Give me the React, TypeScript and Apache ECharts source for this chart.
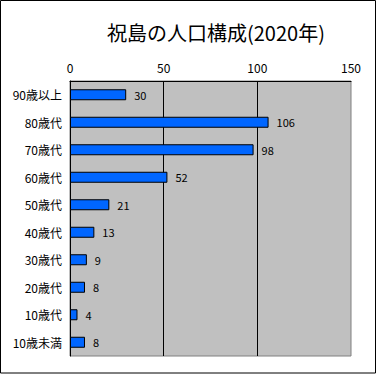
import React, { useEffect, useRef } from "react";
import * as echarts from "echarts";

const categories = ["90歳以上", "80歳代", "70歳代", "60歳代", "50歳代", "40歳代", "30歳代", "20歳代", "10歳代", "10歳未満"];
const values = [30, 106, 98, 52, 21, 13, 9, 8, 4, 8];
const titleText = "祝島の人口構成(2020年)";
const FONT = "'Noto Sans CJK JP', sans-serif";

export default function App() {
  const ref = useRef<HTMLDivElement>(null);
  useEffect(() => {
    const chart = echarts.init(ref.current!, null, { renderer: "svg" });
    chart.setOption({
      animation: false,
      backgroundColor: "#ffffff",
      textStyle: { fontFamily: FONT },
      title: {
        text: titleText,
        left: 102,
        top: 17,
        textStyle: { fontFamily: FONT, fontSize: 20, fontWeight: "normal", color: "#000" },
      },
      grid: {
        left: 70,
        right: 26,
        top: 81,
        bottom: 18,
        show: true,
        backgroundColor: "#C0C0C0",
        borderColor: "#808080",
        borderWidth: 1,
      },
      xAxis: {
        type: "value",
        position: "top",
        min: 0,
        max: 150,
        interval: 50,
        axisLine: { show: true, lineStyle: { color: "#000", width: 1 } },
        axisTick: { show: false },
        axisLabel: { color: "#000", fontSize: 12, margin: 8, fontFamily: FONT },
        splitLine: { show: true, showMinLine: false, showMaxLine: false, lineStyle: { color: "#000", width: 1 } },
      },
      yAxis: {
        type: "category",
        data: categories,
        inverse: true,
        axisLine: { show: true, lineStyle: { color: "#000", width: 1 } },
        axisTick: { show: false },
        axisLabel: { color: "#000", fontSize: 12, margin: 8, fontFamily: FONT },
      },
      series: [
        {
          type: "bar",
          data: values,
          barWidth: 11,
          itemStyle: { color: "#0066FF", borderColor: "#000", borderWidth: 1 },
          label: { show: true, position: "right", distance: 8, color: "#000", fontSize: 11, fontFamily: FONT },
        },
      ],
      graphic: [
        {
          type: "rect",
          shape: { x: 0.5, y: 0.5, width: 375, height: 372.5 },
          style: { fill: "none", stroke: "#000", lineWidth: 1 },
          silent: true,
        },
      ],
    });
    return () => chart.dispose();
  }, []);
  return <div ref={ref} style={{ position: "fixed", left: 0, top: 0, width: 377, height: 374 }} />;
}
